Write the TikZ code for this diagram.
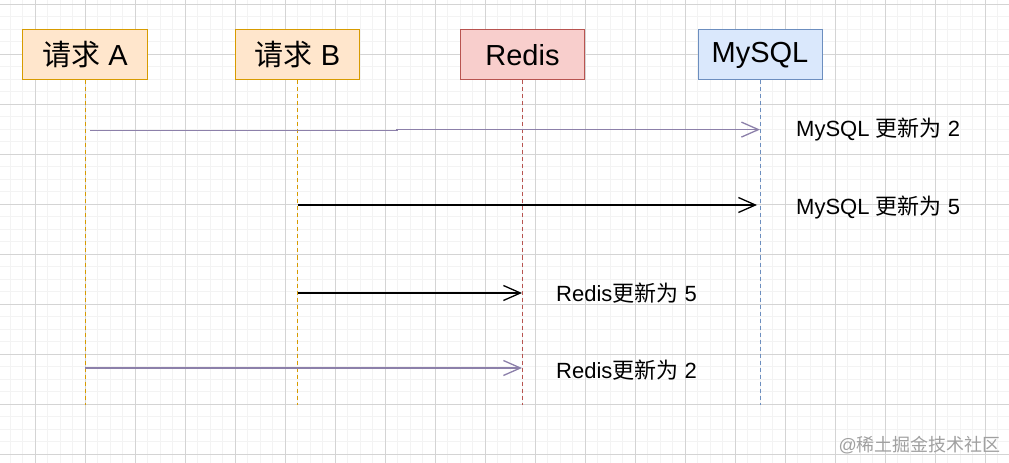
\documentclass[tikz,border=0pt]{standalone}
\usepackage{fontspec}
\setmainfont{Liberation Sans}
\newfontfamily\cjk{Noto Sans CJK SC}
\usetikzlibrary{arrows.meta}
\definecolor{gridminor}{RGB}{243,243,243}
\definecolor{gridmajor}{RGB}{212,212,212}
\definecolor{orfill}{HTML}{FFE6CC}
\definecolor{orline}{HTML}{D79B00}
\definecolor{rdfill}{HTML}{F8CECC}
\definecolor{rdline}{HTML}{B85450}
\definecolor{blfill}{HTML}{DAE8FC}
\definecolor{blline}{HTML}{6C8EBF}
\definecolor{msgpurple}{RGB}{140,128,170}
\definecolor{wmark}{RGB}{160,160,160}
\tikzset{
  actorbox/.style={draw, line width=1bp, minimum width=124bp, minimum height=50bp, inner sep=0pt,
    font=\fontsize{29bp}{34bp}\selectfont},
  lifeline/.style={line width=1bp, dash pattern=on 4bp off 3bp},
  msgblack/.style={line width=1.3bp, draw=black, -{Straight Barb[length=17bp,width=15bp,line width=1.3bp]}},
  msggray/.style={line width=1.3bp, draw=msgpurple, -{Straight Barb[length=17bp,width=15bp,line width=1.3bp]}},
  msglabel/.style={anchor=west, inner sep=0pt, font=\fontsize{22bp}{26bp}\selectfont},
}
\begin{document}
\begin{tikzpicture}[x=1bp,y=-1bp]
\useasboundingbox (0,0) rectangle (1009,463);
\fill[white] (0,0) rectangle (1009,463);
% grid
\foreach \i in {0,...,81} \draw[gridminor, line width=0.8bp] ({-2.5+12.5*\i},0) -- ({-2.5+12.5*\i},463);
\foreach \i in {0,...,37} \draw[gridminor, line width=0.8bp] (0,{4+12.5*\i}) -- (1009,{4+12.5*\i});
\foreach \i in {0,...,19} \draw[gridmajor, line width=0.9bp] ({35+50*\i},0) -- ({35+50*\i},463);
\foreach \i in {0,...,9} \draw[gridmajor, line width=0.9bp] (0,{4+50*\i}) -- (1009,{4+50*\i});

% actors
\node[actorbox, fill=orfill, draw=orline] (A) at (85,55) {{\cjk 请求} A};
\node[actorbox, fill=orfill, draw=orline] (B) at (297.5,55) {{\cjk 请求} B};
\node[actorbox, fill=rdfill, draw=rdline] (R) at (522.5,55) {Redis};
\node[actorbox, fill=blfill, draw=blline] (M) at (760,55) {MySQL};

% lifelines
\coordinate (Aend) at (85,405);
\coordinate (Bend) at (297.5,405);
\coordinate (Rend) at (522.5,405);
\coordinate (Mend) at (760,405);
\draw[lifeline, orline] (A.south) -- (Aend);
\draw[lifeline, orline] (B.south) -- (Bend);
\draw[lifeline, rdline] (R.south) -- (Rend);
\draw[lifeline, blline] (M.south) -- (Mend);

% messages
\coordinate (m1s) at (90,130.8);
\coordinate (m1k) at (397,130.8);
\coordinate (m1e) at (760,129.6);
\draw[msggray, line join=miter] (m1s) -- (m1k) -- (m1k |- m1e) -- (m1e);
\node[msglabel] (l1) at (796,130) {MySQL {\cjk 更新为} 2};

\coordinate (m2s) at (297.5,205);
\coordinate (m2e) at (757,205);
\draw[msgblack] (m2s) -- (m2e);
\node[msglabel] (l2) at (796,208) {MySQL {\cjk 更新为} 5};

\coordinate (m3s) at (297.5,293);
\coordinate (m3e) at (522,293);
\draw[msgblack] (m3s) -- (m3e);
\node[msglabel] (l3) at (556,293) {Redis{\cjk 更新为} 5};

\coordinate (m4s) at (85,368);
\coordinate (m4e) at (522,368);
\draw[msggray] (m4s) -- (m4e);
\node[msglabel] (l4) at (556,370) {Redis{\cjk 更新为} 2};

% watermark
\node[anchor=east, inner sep=0pt, text=wmark, font=\fontsize{18bp}{22bp}\selectfont] (wm) at (1001,445) {@{\cjk 稀土掘金技术社区}};
\end{tikzpicture}
\end{document}
